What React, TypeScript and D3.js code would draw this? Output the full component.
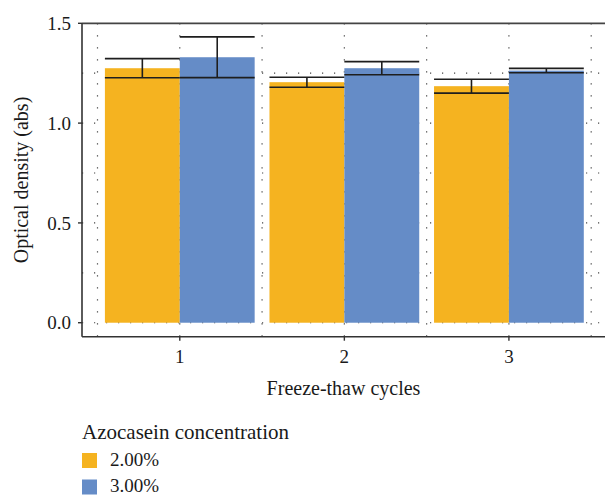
import React from 'react'
import * as d3 from 'd3'

const cycles = ['1', '2', '3']
const series = ['2.00%', '3.00%']
const means2 = [1.275, 1.205, 1.185]
const errs2 = [0.048, 0.025, 0.035]
const means3 = [1.33, 1.275, 1.263]
const errs3 = [0.102, 0.033, 0.011]
const yTicks = [0, 0.5, 1.0, 1.5]
const yGrid = [0, 0.25, 0.5, 0.75, 1.0, 1.25]

const colors = ['#F5B320', '#658CC7']
const font = '"Liberation Serif", "Times New Roman", serif'

const App = () => {
  const width = 605
  const height = 496
  const left = 82
  const right = 605
  const top = 23.3
  const bottom = 336.7

  const x = d3.scaleBand().domain(cycles).range([97.5, 591.2]).paddingInner(0.09).paddingOuter(0.045)
  const xs = d3.scaleBand().domain(series).range([0, x.bandwidth()])
  const y = d3.scaleLinear().domain([-0.07, 1.5]).range([bottom, top])

  const data = cycles.map((c, i) => [
    { c, s: series[0], m: means2[i], e: errs2[i] },
    { c, s: series[1], m: means3[i], e: errs3[i] },
  ])

  const step = x.step()
  const bounds = cycles.map((c) => x(c) - (step - x.bandwidth()) / 2)
  bounds.push(bounds[bounds.length - 1] + step)
  const centers = cycles.map((c) => x(c) + x.bandwidth() / 2)
  const dot = { stroke: '#444', strokeWidth: 1.2, strokeDasharray: '1.2 10.8' }

  return (
    <svg width={width} height={height} style={{ position: 'absolute', left: 0, top: 0 }} fontFamily={font}>
      {/* grid */}
      <g>
        {yGrid.map((t) => (
          <line key={'h' + t} x1={left} x2={right} y1={y(t)} y2={y(t)} {...dot} />
        ))}
        {bounds.concat(centers).map((v, i) => (
          <line key={'v' + i} x1={v} x2={v} y1={top} y2={bottom} {...dot} />
        ))}
      </g>

      {/* bars */}
      {data.flat().map((d, i) => (
        <rect
          key={'b' + i}
          x={x(d.c) + xs(d.s)}
          y={y(d.m)}
          width={xs.bandwidth()}
          height={y(0) - y(d.m)}
          fill={colors[series.indexOf(d.s)]}
        />
      ))}

      {/* error bars */}
      {data.flat().map((d, i) => {
        const x0 = x(d.c) + xs(d.s)
        const x1 = x0 + xs.bandwidth()
        const cx = x0 + xs.bandwidth() / 2
        return (
          <g key={'e' + i} stroke="#1e1e1e" strokeWidth={1.6}>
            <line x1={cx} x2={cx} y1={y(d.m + d.e)} y2={y(d.m - d.e)} />
            <line x1={x0} x2={x1} y1={y(d.m + d.e)} y2={y(d.m + d.e)} />
            <line x1={x0} x2={x1} y1={y(d.m - d.e)} y2={y(d.m - d.e)} />
          </g>
        )
      })}

      {/* frame and axes */}
      <line x1={left} x2={right} y1={top} y2={top} stroke="#444" strokeWidth={1.8} />
      <line x1={left} x2={left} y1={top} y2={bottom} stroke="#333" strokeWidth={1.6} />
      <line x1={left} x2={right} y1={bottom} y2={bottom} stroke="#333" strokeWidth={1.6} />

      {yTicks.map((t) => (
        <g key={'yt' + t}>
          <line x1={left - 4} x2={left} y1={y(t)} y2={y(t)} stroke="#333" strokeWidth={1.4} />
          <text x={71} y={y(t)} dy="0.35em" textAnchor="end" fontSize={19} fill="#1a1a1a">
            {d3.format('.1f')(t)}
          </text>
        </g>
      ))}

      {cycles.map((c) => (
        <g key={'xt' + c}>
          <line x1={x(c) + x.bandwidth() / 2} x2={x(c) + x.bandwidth() / 2} y1={bottom} y2={bottom + 4} stroke="#333" strokeWidth={1.4} />
          <text x={x(c) + x.bandwidth() / 2} y={363} textAnchor="middle" fontSize={19} fill="#1a1a1a">
            {c}
          </text>
        </g>
      ))}

      <text x={(left + right) / 2} y={395} textAnchor="middle" fontSize={20} fill="#1a1a1a">
        Freeze-thaw cycles
      </text>
      <text transform={`translate(28,${(top + bottom) / 2}) rotate(-90)`} textAnchor="middle" fontSize={20} fill="#1a1a1a">
        Optical density (abs)
      </text>

      {/* legend */}
      <text x={82} y={439} fontSize={21} fill="#1a1a1a">
        Azocasein concentration
      </text>
      {series.map((s, i) => (
        <g key={'l' + s} transform={`translate(82,${453 + i * 26.5})`}>
          <rect width={15} height={15} fill={colors[i]} />
          <text x={28} y={12.6} fontSize={19} fill="#1a1a1a">
            {s}
          </text>
        </g>
      ))}
    </svg>
  )
}

export default App
